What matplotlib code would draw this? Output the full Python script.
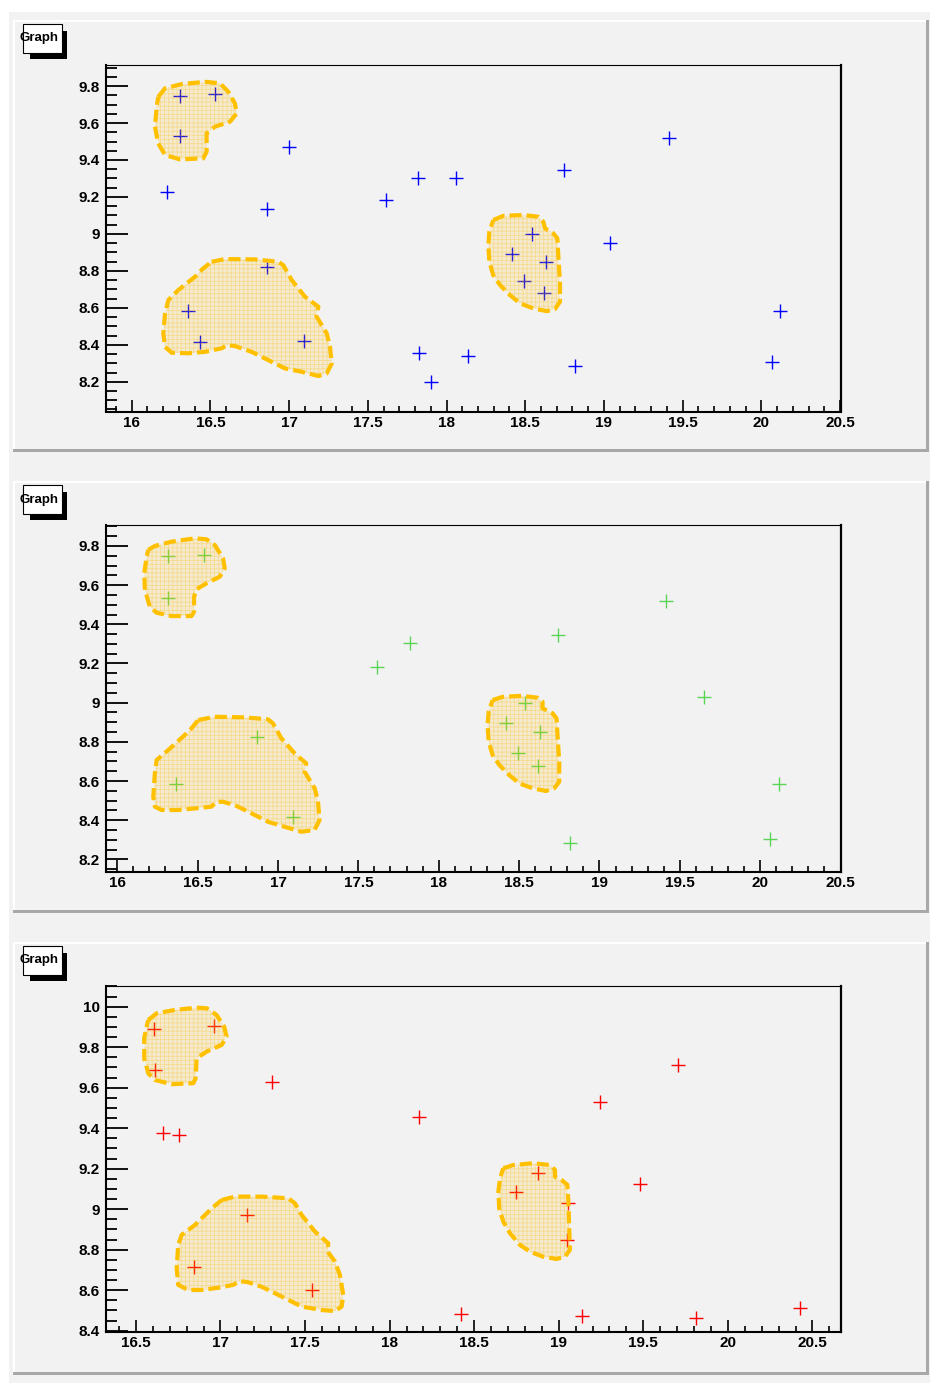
import numpy as np
import matplotlib
matplotlib.use("Agg")
import matplotlib.pyplot as plt
from matplotlib.patches import Rectangle, Polygon
from matplotlib.ticker import MultipleLocator, FuncFormatter

W, H = 930, 1383
plt.rcParams['font.family'] = ['Liberation Sans', 'DejaVu Sans']
plt.rcParams['font.weight'] = 'bold'
plt.rcParams['hatch.linewidth'] = 0.6

# ---------------- data ----------------
# pad 1 (blue)
x_blue = [16.307, 16.531, 16.307, 17.001, 16.226, 16.858, 17.614, 17.819, 18.062,
          16.862, 16.358, 16.434, 17.095, 17.827, 17.900, 18.139, 19.416, 18.745,
          19.039, 18.541, 18.416, 18.634, 18.492, 18.618, 20.121, 20.066, 18.816]
y_blue = [9.748, 9.757, 9.531, 9.472, 9.228, 9.134, 9.185, 9.304, 9.304,
          8.822, 8.584, 8.416, 8.420, 8.357, 8.197, 8.339, 9.520, 9.345,
          8.949, 8.998, 8.891, 8.849, 8.745, 8.678, 8.582, 8.306, 8.283]

# pad 2 (green)
x_green = [16.313, 16.537, 16.313, 17.617, 17.824, 16.870, 16.363, 17.096, 19.412,
           18.743, 19.652, 18.540, 18.419, 18.632, 18.495, 18.617, 20.118, 20.060, 18.818]
y_green = [9.747, 9.756, 9.533, 9.184, 9.305, 8.826, 8.584, 8.417, 9.521,
           9.345, 9.027, 9.000, 8.896, 8.850, 8.743, 8.678, 8.584, 8.305, 8.285]

# pad 3 (red)
x_red = [16.608, 16.963, 16.614, 17.302, 16.660, 16.752, 18.176, 17.158, 16.843,
         17.539, 18.422, 19.705, 19.246, 19.482, 18.875, 18.749, 19.057, 19.047,
         20.425, 19.139, 19.813]
y_red = [9.888, 9.903, 9.687, 9.627, 9.375, 9.365, 9.455, 8.970, 8.716,
         8.601, 8.484, 9.711, 9.529, 9.126, 9.177, 9.085, 9.031, 8.848,
         8.511, 8.471, 8.463]

# selection contours (closed polygons) per pad
cutA1_x = [16.169, 16.212, 16.318, 16.466, 16.561, 16.614, 16.656, 16.667, 16.625,
           16.529, 16.476, 16.476, 16.455, 16.307, 16.212, 16.169, 16.148, 16.159]
cutA1_y = [9.742, 9.788, 9.811, 9.823, 9.815, 9.769, 9.706, 9.652, 9.607,
           9.580, 9.544, 9.444, 9.409, 9.403, 9.427, 9.490, 9.580, 9.688]
cutB1_x = [16.508, 16.593, 16.783, 16.931, 16.963, 17.017, 17.101, 17.186, 17.175,
           17.239, 17.260, 17.271, 17.239, 17.186, 17.080, 16.974, 16.868, 16.762,
           16.656, 16.604, 16.572, 16.466, 16.360, 16.254, 16.212, 16.201, 16.212,
           16.233, 16.296, 16.402, 16.455]
cutB1_y = [8.849, 8.864, 8.862, 8.849, 8.831, 8.750, 8.660, 8.606, 8.552,
           8.462, 8.389, 8.299, 8.245, 8.231, 8.254, 8.272, 8.317, 8.362,
           8.393, 8.398, 8.381, 8.362, 8.354, 8.357, 8.389, 8.462, 8.570,
           8.642, 8.696, 8.768, 8.814]
cutC1_x = [18.297, 18.361, 18.488, 18.583, 18.615, 18.626, 18.679, 18.704, 18.710,
           18.721, 18.721, 18.689, 18.637, 18.551, 18.467, 18.403, 18.340, 18.297,
           18.272, 18.266, 18.272]
cutC1_y = [9.075, 9.098, 9.102, 9.093, 9.066, 9.030, 9.003, 8.976, 8.885,
           8.741, 8.633, 8.593, 8.582, 8.597, 8.624, 8.669, 8.723, 8.777,
           8.849, 8.940, 9.012]

cutA2_x = [16.193, 16.234, 16.338, 16.483, 16.555, 16.607, 16.658, 16.669, 16.638,
           16.555, 16.493, 16.478, 16.478, 16.462, 16.338, 16.245, 16.203, 16.172,
           16.168, 16.183]
cutA2_y = [9.780, 9.800, 9.822, 9.839, 9.834, 9.805, 9.737, 9.686, 9.643,
           9.609, 9.579, 9.541, 9.465, 9.442, 9.442, 9.459, 9.490, 9.575,
           9.661, 9.746]
cutB2_x = [16.503, 16.607, 16.793, 16.938, 16.969, 17.021, 17.104, 17.176, 17.166,
           17.228, 17.248, 17.259, 17.228, 17.145, 17.042, 16.938, 16.835, 16.731,
           16.658, 16.617, 16.586, 16.483, 16.379, 16.276, 16.234, 16.224, 16.234,
           16.245, 16.317, 16.420, 16.462]
cutB2_y = [8.911, 8.928, 8.925, 8.915, 8.894, 8.818, 8.741, 8.690, 8.647,
           8.563, 8.503, 8.401, 8.350, 8.341, 8.366, 8.392, 8.435, 8.477,
           8.494, 8.494, 8.469, 8.460, 8.452, 8.452, 8.469, 8.520, 8.639,
           8.707, 8.758, 8.835, 8.869]
cutC2_x = [18.335, 18.398, 18.522, 18.615, 18.646, 18.646, 18.708, 18.733, 18.739,
           18.750, 18.750, 18.719, 18.667, 18.584, 18.501, 18.439, 18.377, 18.335,
           18.311, 18.304, 18.311]
cutC2_y = [9.013, 9.030, 9.035, 9.025, 9.005, 8.971, 8.946, 8.920, 8.835,
           8.698, 8.596, 8.563, 8.549, 8.563, 8.588, 8.630, 8.682, 8.733,
           8.801, 8.886, 8.954]

cutA3_x = [16.573, 16.622, 16.731, 16.859, 16.918, 16.977, 17.022, 17.036, 17.007,
           16.918, 16.859, 16.853, 16.839, 16.711, 16.612, 16.573, 16.549, 16.549, 16.563]
cutA3_y = [9.934, 9.967, 9.984, 9.995, 9.992, 9.959, 9.901, 9.852, 9.811,
           9.778, 9.745, 9.646, 9.622, 9.617, 9.638, 9.671, 9.745, 9.844, 9.901]
cutB3_x = [17.007, 17.085, 17.243, 17.401, 17.440, 17.480, 17.559, 17.637, 17.634,
           17.677, 17.706, 17.726, 17.716, 17.677, 17.598, 17.480, 17.401, 17.322,
           17.243, 17.164, 17.115, 17.075, 16.987, 16.889, 16.809, 16.750, 16.741,
           16.750, 16.770, 16.849, 16.948]
cutB3_y = [9.045, 9.062, 9.062, 9.054, 9.029, 8.971, 8.889, 8.832, 8.790,
           8.741, 8.675, 8.576, 8.519, 8.497, 8.502, 8.519, 8.552, 8.585,
           8.617, 8.639, 8.645, 8.626, 8.612, 8.601, 8.601, 8.626, 8.708,
           8.823, 8.873, 8.922, 9.004]
cutC3_x = [18.672, 18.731, 18.850, 18.948, 18.978, 18.978, 19.017, 19.051, 19.057,
           19.062, 19.066, 19.037, 18.988, 18.909, 18.830, 18.771, 18.712, 18.672,
           18.648, 18.643, 18.653]
cutC3_y = [9.202, 9.218, 9.227, 9.218, 9.194, 9.160, 9.144, 9.120, 9.037,
           8.906, 8.799, 8.765, 8.754, 8.765, 8.790, 8.823, 8.881, 8.938,
           9.004, 9.086, 9.153]

title_text = "Graph"

# ---------------- figure ----------------
fig = plt.figure(figsize=(W / 100, H / 100), dpi=100)
fig.patch.set_facecolor('white')

PAD_BG = '#f2f2f2'
SHADOW = '#a8a8a8'
CUT_EDGE = '#ffc000'


def frect(x0, y0, x1, y1, z=-5, **kw):
    """Rectangle in pixel units measured from the top-left corner."""
    r = Rectangle((x0 / W, 1 - y1 / H), (x1 - x0) / W, (y1 - y0) / H,
                  transform=fig.transFigure, figure=fig, zorder=z, **kw)
    fig.patches.append(r)


# canvas
frect(9, 12, 930, 1383, facecolor=PAD_BG, lw=0)


def draw_pad(box, frame, xlim, ylim, xs, ys, color, cuts):
    x0, y0, x1, y1 = box
    frect(x0, y0, x1, y1, facecolor=PAD_BG, lw=0)
    frect(x0, y0, x1, y0 + 2, facecolor='white', lw=0)
    frect(x0, y0, x0 + 2, y1, facecolor='white', lw=0)
    frect(x0, y1 - 3, x1, y1, facecolor=SHADOW, lw=0)
    frect(x1 - 3, y0, x1, y1, facecolor=SHADOW, lw=0)

    # title box with drop shadow
    frect(x0 + 17, y0 + 11, x0 + 53.7, y0 + 39, facecolor='black', lw=0)
    frect(x0 + 10, y0 + 4, x0 + 49, y0 + 33, facecolor='white',
          edgecolor='black', lw=0.8)
    fig.text((x0 + 25.5) / W, 1 - (y0 + 18.5) / H, title_text,
             ha='center', va='center', fontsize=9.5, fontweight='bold')

    fl, ft, fr, fb = frame
    ax = fig.add_axes([fl / W, 1 - fb / H, (fr - fl) / W, (fb - ft) / H])
    ax.set_facecolor(PAD_BG)
    ax.set_xlim(*xlim)
    ax.set_ylim(*ylim)

    ax.plot(xs, ys, linestyle='none', marker='+', markersize=9.5,
            markeredgewidth=1.0, color=color, zorder=2)

    for cx, cy in cuts:
        pts = np.column_stack([cx, cy])
        ax.add_patch(Polygon(pts, closed=True, facecolor=(1.0, 0.75, 0.0, 0.14),
                             edgecolor='none', zorder=3))
        ax.add_patch(Polygon(pts, closed=True, fill=False,
                             edgecolor=(1.0, 0.72, 0.0, 0.3), lw=0,
                             hatch='++++', zorder=3))
        ax.add_patch(Polygon(pts, closed=True, fill=False, edgecolor=CUT_EDGE,
                             lw=3.0, linestyle=(0, (2.9, 1.2)),
                             joinstyle='round', zorder=4))

    ax.xaxis.set_major_locator(MultipleLocator(0.5))
    ax.xaxis.set_minor_locator(MultipleLocator(0.1))
    ax.yaxis.set_major_locator(MultipleLocator(0.2))
    ax.yaxis.set_minor_locator(MultipleLocator(0.05))
    fmt = FuncFormatter(lambda v, p: f"{round(v, 2):g}")
    ax.xaxis.set_major_formatter(fmt)
    ax.yaxis.set_major_formatter(fmt)

    ax.tick_params(axis='x', which='major', direction='in', length=8.4,
                   width=1.2, pad=3.0, labelsize=11, top=False)
    ax.tick_params(axis='x', which='minor', direction='in', length=4.1,
                   width=1.2, top=False)
    ax.tick_params(axis='y', which='major', direction='in', length=15.8,
                   width=1.3, pad=4.6, labelsize=11, right=False)
    ax.tick_params(axis='y', which='minor', direction='in', length=7.9,
                   width=1.3, right=False)
    for lab in ax.get_xticklabels() + ax.get_yticklabels():
        lab.set_fontweight('bold')

    ax.spines['left'].set_linewidth(1.5)
    ax.spines['bottom'].set_linewidth(1.5)
    ax.spines['top'].set_linewidth(0.8)
    ax.spines['right'].set_linewidth(1.6)
    return ax


draw_pad((13, 20, 929, 452), (106, 65, 841, 411.5),
         (15.837, 20.506), (8.039, 9.914), x_blue, y_blue, '#0000ff',
         [(cutA1_x, cutA1_y), (cutB1_x, cutB1_y), (cutC1_x, cutC1_y)])
draw_pad((13, 481, 929, 913), (106, 525, 841, 871.7),
         (15.930, 20.503), (8.137, 9.907), x_green, y_green, '#59d454',
         [(cutA2_x, cutA2_y), (cutB2_x, cutB2_y), (cutC2_x, cutC2_y)])
draw_pad((13, 942, 929, 1375), (106, 986, 841, 1331.7),
         (16.323, 20.669), (8.395, 10.102), x_red, y_red, '#ff0000',
         [(cutA3_x, cutA3_y), (cutB3_x, cutB3_y), (cutC3_x, cutC3_y)])

fig.savefig('out.png', dpi=100, facecolor=fig.get_facecolor())
